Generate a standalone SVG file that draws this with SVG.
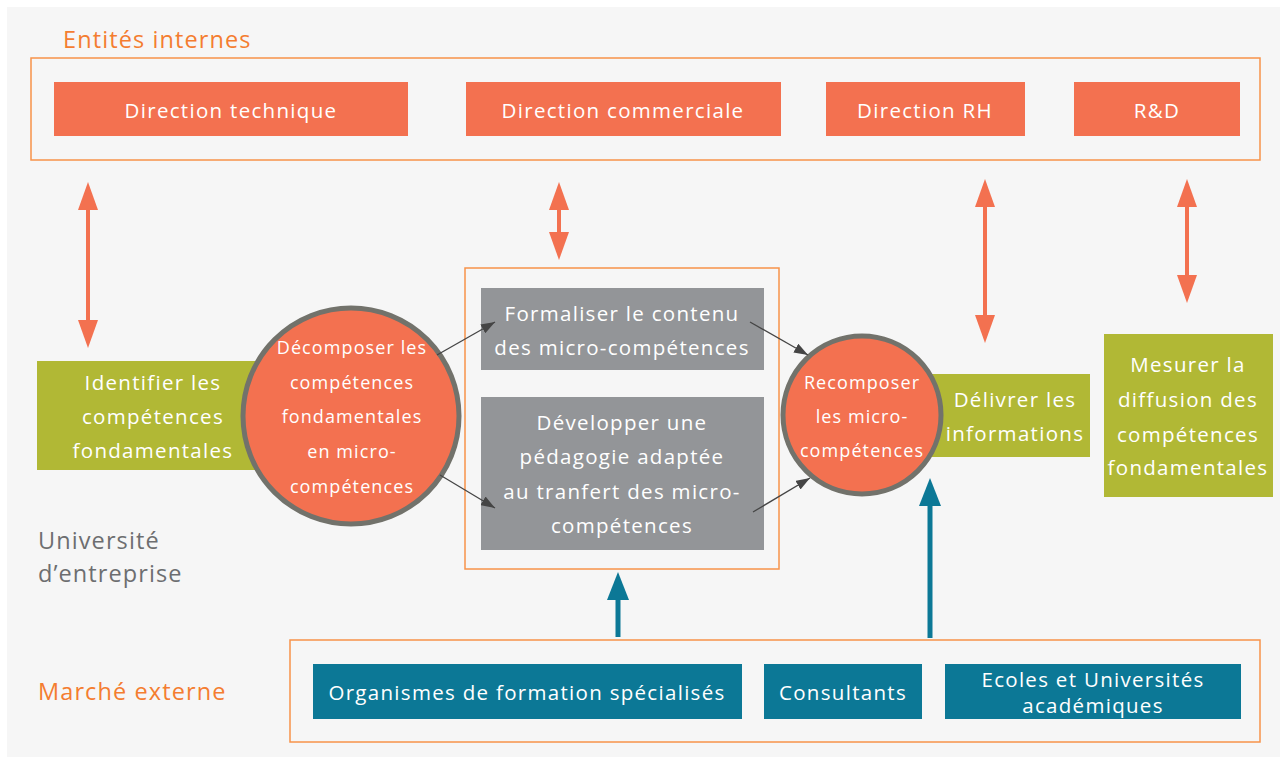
<svg xmlns="http://www.w3.org/2000/svg" width="1287" height="764" viewBox="0 0 1287 764">
<defs>
<style>
text{font-family:"Open Sans","Liberation Sans",sans-serif;}
.w{fill:#ffffff;font-size:20.5px;text-anchor:middle;letter-spacing:1.3px;}
.wc{fill:#ffffff;font-size:18px;text-anchor:middle;letter-spacing:1.1px;}
.frame{fill:none;stroke:#f7934a;stroke-width:1.5;}
.org{fill:#f37150;}
.grn{fill:#b1b835;}
.gry{fill:#939598;}
.teal{fill:#0c7896;}
.circ{fill:#f37150;stroke:#72726b;stroke-width:5;}
.oa{stroke:#f37150;stroke-width:4;marker-start:url(#ho);marker-end:url(#ho);}
.ta{stroke:#0c7896;stroke-width:5;marker-end:url(#ht);}
.da{stroke:#454545;stroke-width:1.3;marker-end:url(#hd);}
.lbl{font-size:23.5px;letter-spacing:1.1px;}
</style>
<marker id="ho" markerUnits="userSpaceOnUse" markerWidth="28" markerHeight="20" refX="8" refY="10" orient="auto-start-reverse"><path d="M0,0 L28,10 L0,20 z" fill="#f37150"/></marker>
<marker id="ht" markerUnits="userSpaceOnUse" markerWidth="28" markerHeight="22" refX="8" refY="11" orient="auto"><path d="M0,0 L28,11 L0,22 z" fill="#0c7896"/></marker>
<marker id="hd" markerUnits="userSpaceOnUse" markerWidth="14" markerHeight="10" refX="14" refY="5" orient="auto"><path d="M0,0 L14,5 L0,10 z" fill="#454545"/></marker>
</defs>
<rect x="7" y="7" width="1273" height="750" fill="#f6f6f6"/>

<g id="internes">
<text x="63" y="48" class="lbl" fill="#f47d30">Entités internes</text>
<rect x="31" y="58" width="1229" height="102" class="frame"/>
</g>
<g id="dir-tech"><rect x="54" y="82" width="354" height="54" class="org"/><text x="231" y="118" class="w">Direction technique</text></g>
<g id="dir-com"><rect x="466" y="82" width="315" height="54" class="org"/><text x="623" y="118" class="w">Direction commerciale</text></g>
<g id="dir-rh"><rect x="826" y="82" width="199" height="54" class="org"/><text x="925" y="118" class="w">Direction RH</text></g>
<g id="rd"><rect x="1074" y="82" width="166" height="54" class="org"/><text x="1157" y="118" class="w">R&amp;D</text></g>

<g id="universite"><text x="38" y="549" class="lbl" fill="#6d6e70">Université</text><text x="38" y="582" class="lbl" fill="#6d6e70">d’entreprise</text></g>

<g id="identifier"><rect x="37" y="361" width="230" height="109" class="grn"/>
<text x="153" y="390" class="w">Identifier les</text><text x="153" y="424" class="w">compétences</text><text x="153" y="458" class="w">fondamentales</text></g>

<g id="decomposer"><circle cx="351" cy="416" r="108" class="circ"/>
<text x="352" y="354" class="wc">Décomposer les</text><text x="352" y="389" class="wc">compétences</text><text x="352" y="423" class="wc">fondamentales</text><text x="352" y="458" class="wc">en micro-</text><text x="352" y="493" class="wc">compétences</text></g>

<g id="centre"><rect x="465" y="268" width="314" height="301" class="frame"/></g>
<g id="formaliser"><rect x="481" y="288" width="283" height="82" class="gry"/>
<text x="622" y="321" class="w">Formaliser le contenu</text><text x="622" y="355" class="w">des micro-compétences</text></g>
<g id="developper"><rect x="481" y="397" width="283" height="153" class="gry"/>
<text x="622" y="430" class="w">Développer une</text><text x="622" y="464" class="w">pédagogie adaptée</text><text x="622" y="499" class="w">au tranfert des micro-</text><text x="622" y="533" class="w">compétences</text></g>

<g id="delivrer"><rect x="930" y="374" width="160" height="83" class="grn"/>
<text x="1015" y="407" class="w">Délivrer les</text><text x="1015" y="441" class="w">informations</text></g>

<g id="recomposer"><circle cx="862" cy="415" r="79" class="circ"/>
<text x="862" y="389" class="wc">Recomposer</text><text x="862" y="423" class="wc">les micro-</text><text x="862" y="457" class="wc">compétences</text></g>

<g id="mesurer"><rect x="1104" y="334" width="169" height="163" class="grn"/>
<text x="1188" y="372" class="w">Mesurer la</text><text x="1188" y="407" class="w">diffusion des</text><text x="1188" y="442" class="w">compétences</text><text x="1188" y="475" class="w">fondamentales</text></g>

<g id="externe">
<text x="38" y="700" class="lbl" fill="#f47d30">Marché externe</text>
<rect x="290" y="640" width="970" height="102" class="frame"/>
</g>
<g id="organismes"><rect x="313" y="664" width="429" height="55" class="teal"/><text x="527" y="700" class="w">Organismes de formation spécialisés</text></g>
<g id="consultants"><rect x="764" y="664" width="158" height="55" class="teal"/><text x="843" y="700" class="w">Consultants</text></g>
<g id="ecoles"><rect x="945" y="664" width="296" height="55" class="teal"/><text x="1093" y="687" class="w">Ecoles et Universités</text><text x="1093" y="713" class="w">académiques</text></g>

<g id="connectors" fill="none">
<line x1="88" y1="202" x2="88" y2="328" class="oa"/>
<line x1="559" y1="202" x2="559" y2="240" class="oa"/>
<line x1="985" y1="199" x2="985" y2="323" class="oa"/>
<line x1="1187" y1="199" x2="1187" y2="283" class="oa"/>
<line x1="618" y1="637" x2="618" y2="592" class="ta"/>
<line x1="930" y1="638" x2="930" y2="498" class="ta"/>
<line x1="437" y1="355" x2="495" y2="322" class="da"/>
<line x1="440" y1="475" x2="495" y2="508" class="da"/>
<line x1="750" y1="322" x2="808" y2="355" class="da"/>
<line x1="753" y1="512" x2="810" y2="478" class="da"/>
</g>
</svg>
